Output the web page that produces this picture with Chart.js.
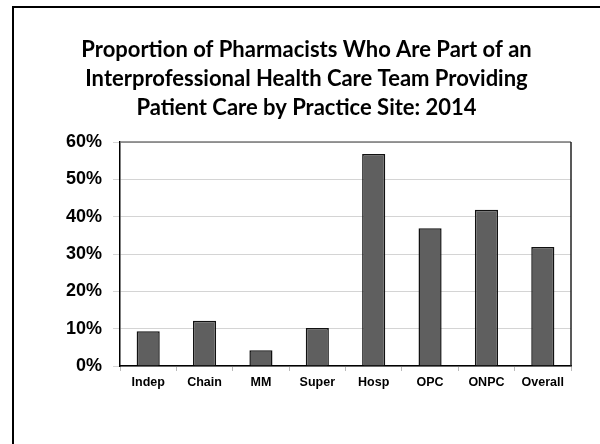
<!DOCTYPE html>
<html lang="en">
<head>
    <meta charset="UTF-8" />
    <title>Interprofessional Team by Practice Site</title>
    <script src="https://cdn.jsdelivr.net/npm/chart.js"></script>
    <style>
        html, body {
            margin: 0;
            padding: 0;
            background: #fff;
        }
        .frame {
            position: absolute;
            left: 12px;
            top: 6px;
            width: 588px;
            height: 438px;
            border-left: 2px solid #000;
            border-top: 2px solid #000;
        }
        .chart-wrap {
            position: absolute;
            left: 0;
            top: 0;
            width: 600px;
            height: 444px;
        }
    </style>
</head>
<body>
    <div class="frame"></div>
    <div class="chart-wrap">
        <canvas id="siteChart" width="600" height="444"></canvas>
    </div>

<script>
  // values (percent)
  const sites = ['Indep', 'Chain', 'MM', 'Super', 'Hosp', 'OPC', 'ONPC', 'Overall'];
  const teamShare = [9.3, 12.1, 4.2, 10.2, 56.8, 36.9, 41.9, 31.9];
  const yTicks = [0, 10, 20, 30, 40, 50, 60];
  const titleLines = [
    'Proportion of Pharmacists Who Are Part of an',
    'Interprofessional Health Care Team Providing',
    'Patient Care by Practice Site: 2014'
  ];

  // top and right edges of the plot box
  const plotBox = {
    id: 'plotBox',
    afterDraw(chart) {
      const { ctx, chartArea: a } = chart;
      ctx.save();
      ctx.lineWidth = 1.5;
      ctx.strokeStyle = '#777';
      ctx.beginPath();
      ctx.moveTo(a.left, a.top);
      ctx.lineTo(a.right, a.top);
      ctx.stroke();
      ctx.strokeStyle = '#222';
      ctx.beginPath();
      ctx.moveTo(a.right, a.top);
      ctx.lineTo(a.right, a.bottom);
      ctx.stroke();
      ctx.restore();
    }
  };

  const ctx = document.getElementById('siteChart').getContext('2d');
  new Chart(ctx, {
    type: 'bar',
    data: {
      labels: sites,
      datasets: [{
        data: teamShare,
        backgroundColor: '#5f5f5f',
        borderColor: '#111',
        borderWidth: 1.5,
        barPercentage: 0.41,
        categoryPercentage: 1
      }]
    },
    options: {
      responsive: false,
      animation: false,
      layout: { padding: { top: 35, right: 29, bottom: 50, left: 42 } },
      plugins: {
        legend: { display: false },
        tooltip: { enabled: false },
        title: {
          display: true,
          text: titleLines,
          color: '#000',
          font: { family: 'Lato', size: 22, weight: 'bold', lineHeight: 1.32 },
          padding: { top: 0, bottom: 20 }
        }
      },
      scales: {
        x: {
          grid: {
            offset: true,
            drawOnChartArea: false,
            drawTicks: true,
            tickLength: 5,
            color: '#bbb'
          },
          border: { display: true, color: '#000', width: 1.5 },
          ticks: {
            color: '#000',
            padding: 4,
            font: { family: 'Liberation Sans', size: 12.5, weight: 'bold' }
          }
        },
        y: {
          min: 0,
          max: 60,
          afterBuildTicks: axis => { axis.ticks = yTicks.map(v => ({ value: v })); },
          afterFit: axis => { axis.width = 78; },
          grid: { color: '#d4d4d4', tickLength: 7 },
          border: { display: true, color: '#000', width: 1.5 },
          ticks: {
            color: '#000',
            padding: 11,
            font: { family: 'Liberation Sans', size: 18, weight: 'bold' },
            callback: v => v + '%'
          }
        }
      }
    },
    plugins: [plotBox]
  });
</script>
</body>
</html>
